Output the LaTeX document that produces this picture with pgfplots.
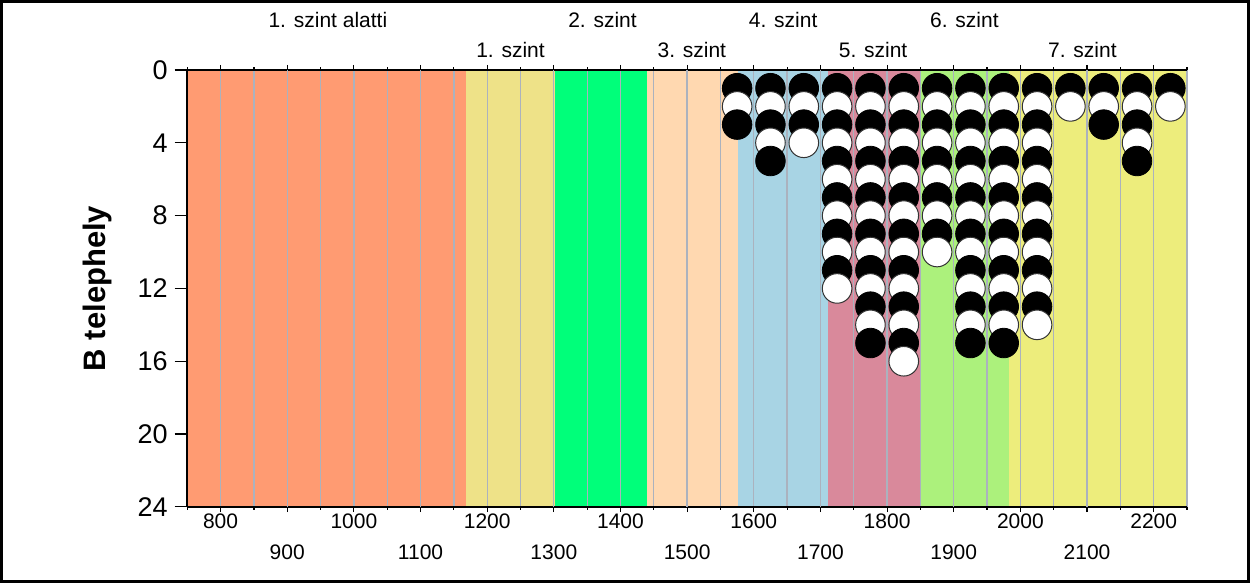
\documentclass[border=0pt]{standalone}
\usepackage{pgfplots}
\pgfplotsset{compat=1.18}
\usepackage{pgfplotstable}
\usepackage{fontspec}
\setmainfont{Liberation Sans}
\definecolor{cA}{HTML}{FF9B72}
\definecolor{cB}{HTML}{EEE288}
\definecolor{cC}{HTML}{00FF7A}
\definecolor{cD}{HTML}{FFD8B0}
\definecolor{cE}{HTML}{A8D4E4}
\definecolor{cF}{HTML}{D9899B}
\definecolor{cG}{HTML}{ACF17C}
\definecolor{cH}{HTML}{EDED7C}
\definecolor{gridc}{HTML}{ABB2BE}
\pgfplotstableread{
x y c
1575 1 b
1575 2 w
1575 3 b
1625 1 b
1625 2 w
1625 3 b
1625 4 w
1625 5 b
1675 1 b
1675 2 w
1675 3 b
1675 4 w
1725 1 b
1725 2 w
1725 3 b
1725 4 w
1725 5 b
1725 6 w
1725 7 b
1725 8 w
1725 9 b
1725 10 w
1725 11 b
1725 12 w
1775 1 b
1775 2 w
1775 3 b
1775 4 w
1775 5 b
1775 6 w
1775 7 b
1775 8 w
1775 9 b
1775 10 w
1775 11 b
1775 12 w
1775 13 b
1775 14 w
1775 15 b
1825 1 b
1825 2 w
1825 3 b
1825 4 w
1825 5 b
1825 6 w
1825 7 b
1825 8 w
1825 9 b
1825 10 w
1825 11 b
1825 12 w
1825 13 b
1825 14 w
1825 15 b
1825 16 w
1875 1 b
1875 2 w
1875 3 b
1875 4 w
1875 5 b
1875 6 w
1875 7 b
1875 8 w
1875 9 b
1875 10 w
1925 1 b
1925 2 w
1925 3 b
1925 4 w
1925 5 b
1925 6 w
1925 7 b
1925 8 w
1925 9 b
1925 10 w
1925 11 b
1925 12 w
1925 13 b
1925 14 w
1925 15 b
1975 1 b
1975 2 w
1975 3 b
1975 4 w
1975 5 b
1975 6 w
1975 7 b
1975 8 w
1975 9 b
1975 10 w
1975 11 b
1975 12 w
1975 13 b
1975 14 w
1975 15 b
2025 1 b
2025 2 w
2025 3 b
2025 4 w
2025 5 b
2025 6 w
2025 7 b
2025 8 w
2025 9 b
2025 10 w
2025 11 b
2025 12 w
2025 13 b
2025 14 w
2075 1 b
2075 2 w
2125 1 b
2125 2 w
2125 3 b
2175 1 b
2175 2 w
2175 3 b
2175 4 w
2175 5 b
2225 1 b
2225 2 w
}\dots
\begin{document}
\begin{tikzpicture}
\begin{axis}[name=ax,
  scale only axis, width=500pt, height=218.5pt,
  xmin=750, xmax=2250, ymin=0, ymax=24, y dir=reverse,
  axis on top,
  axis x line=box, axis y line*=left,
  tick align=outside,
  major tick length=2.6pt, minor tick length=1.4pt,
  xtick={800,1000,...,2200},
  extra x ticks={900,1100,...,2100},
  extra x tick style={grid=major, tick label style={yshift=-15.5pt}},
  minor xtick={750,850,...,2250},
  xtick pos=both, xticklabel pos=lower,
  ytick=\empty,
  xmajorgrids, xminorgrids,
  grid style={gridc, line width=0.65pt},
  minor grid style={gridc, line width=0.65pt},
  /pgf/number format/assume math mode=true,
  /pgf/number format/1000 sep={},
  x tick label style={font=\fontsize{10.5}{12}\selectfont, yshift=2.7pt},
  tick style={black, line width=0.6pt},
  axis line style={black, line width=0.8pt},
  clip=false,
]
\addplot[draw=none, fill=cA, forget plot] coordinates {(750,0) (1168,0) (1168,24) (750,24)} -- cycle;
\addplot[draw=none, fill=cB, forget plot] coordinates {(1168,0) (1302,0) (1302,24) (1168,24)} -- cycle;
\addplot[draw=none, fill=cC, forget plot] coordinates {(1302,0) (1440,0) (1440,24) (1302,24)} -- cycle;
\addplot[draw=none, fill=cD, forget plot] coordinates {(1440,0) (1576,0) (1576,24) (1440,24)} -- cycle;
\addplot[draw=none, fill=cE, forget plot] coordinates {(1576,0) (1711,0) (1711,24) (1576,24)} -- cycle;
\addplot[draw=none, fill=cF, forget plot] coordinates {(1711,0) (1849,0) (1849,24) (1711,24)} -- cycle;
\addplot[draw=none, fill=cG, forget plot] coordinates {(1849,0) (1983,0) (1983,24) (1849,24)} -- cycle;
\addplot[draw=none, fill=cH, forget plot] coordinates {(1983,0) (2250,0) (2250,24) (1983,24)} -- cycle;
\addplot[only marks, scatter, scatter src=explicit symbolic,
  scatter/classes={
    b={mark=*, mark size=7.4pt, fill=black, draw=black, line width=0.4pt},
    w={mark=*, mark size=7.4pt, fill=white, draw=black!80, line width=0.5pt}}]
  table[x=x, y=y, meta=c] {\dots};
\node[font=\fontsize{10.5}{12}\selectfont] at (axis cs:961,0) [yshift=25pt] {1. szint alatti};
\node[font=\fontsize{10.5}{12}\selectfont] at (axis cs:1235,0) [yshift=10pt] {1. szint};
\node[font=\fontsize{10.5}{12}\selectfont] at (axis cs:1373,0) [yshift=25pt] {2. szint};
\node[font=\fontsize{10.5}{12}\selectfont] at (axis cs:1507,0) [yshift=10pt] {3. szint};
\node[font=\fontsize{10.5}{12}\selectfont] at (axis cs:1644,0) [yshift=25pt] {4. szint};
\node[font=\fontsize{10.5}{12}\selectfont] at (axis cs:1779,0) [yshift=10pt] {5. szint};
\node[font=\fontsize{10.5}{12}\selectfont] at (axis cs:1916,0) [yshift=25pt] {6. szint};
\node[font=\fontsize{10.5}{12}\selectfont] at (axis cs:2093,0) [yshift=10pt] {7. szint};
\end{axis}
\begin{axis}[
  scale only axis, width=500pt, height=218.5pt,
  xmin=750, xmax=2250, ymin=0, ymax=24, y dir=reverse,
  axis x line=none, axis y line*=left,
  tick align=outside, major tick length=6.3pt,
  ytick={0,4,...,24}, ytick pos=left,
  /pgf/number format/assume math mode=true,
  y tick label style={font=\fontsize{13.5}{15}\selectfont},
  tick style={black, line width=0.6pt},
  axis line style={black, line width=0.8pt},
  ylabel={B telephely},
  ylabel style={at={(axis description cs:-0.09,0.5)}, anchor=center, font=\fontsize{15.5}{18}\selectfont\bfseries},
]
\end{axis}
\useasboundingbox ([shift={(-93.65pt,-38pt)}]ax.south west) rectangle ([shift={(31.5pt,35pt)}]ax.north east);
\draw[line width=1.5pt] ([shift={(-92.9pt,-37.25pt)}]ax.south west) rectangle ([shift={(30.75pt,34.25pt)}]ax.north east);
\end{tikzpicture}
\end{document}
